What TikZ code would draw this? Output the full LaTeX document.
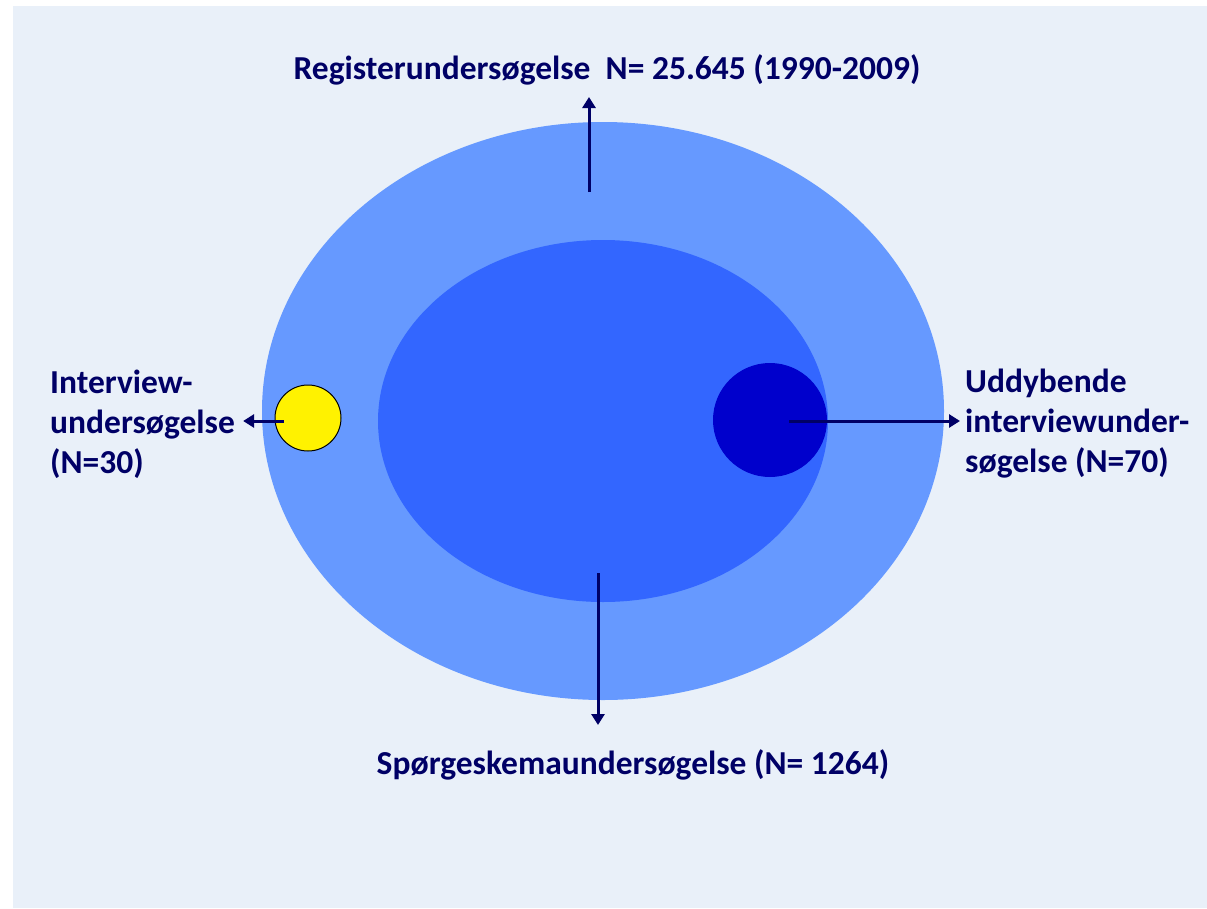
\documentclass[tikz,border=0pt]{standalone}
\usepackage{fontspec}
\setmainfont{Carlito}
\usepackage{tikz}
\usetikzlibrary{arrows.meta}
\definecolor{bgblue}{HTML}{E9F0F9}
\definecolor{outerblue}{HTML}{6699FF}
\definecolor{innerblue}{HTML}{3366FF}
\definecolor{darkdot}{HTML}{0000CC}
\definecolor{navy}{HTML}{000066}
\tikzset{
  lbl/.style={text=navy,font=\fontsize{33.5}{40}\selectfont\bfseries,inner sep=0pt},
  arr/.style={navy,line width=3pt,-{Triangle[width=13pt,length=11pt]}}
}
\begin{document}
\begin{tikzpicture}[x=1pt,y=-1pt]
          \useasboundingbox (0,0) rectangle (1207,908);
          \fill[bgblue] (13,6) rectangle (1207,908);
          \fill[outerblue] (603,411) ellipse [x radius=341,y radius=289];
          \fill[innerblue] (603,421) ellipse [x radius=225,y radius=181];
          \node[circle,fill=yellow,draw=black,line width=1pt,minimum size=66pt,inner sep=0pt] (yellowdot) at (308,418) {};
          \node[circle,fill=darkdot,minimum size=114pt,inner sep=0pt] (bluedot) at (770,420) {};
          % labels
          \node[lbl] (register) at (607,70) {Registerundersøgelse\ \ N= 25.645 (1990-2009)};
          \node[lbl] (spoerge) at (633,765) {Spørgeskemaundersøgelse (N= 1264)};
          \node[lbl,anchor=west,align=left] (interview) at (50,424) {Interview-\\undersøgelse\\(N=30)};
          \node[lbl,anchor=west,align=left] (uddyb) at (965,424) {Uddybende\\interviewunder-\\søgelse (N=70)};
          % arrows
          \coordinate (upstart) at (589,192);
          \coordinate (downstart) at (598,573);
          \coordinate (leftstart) at (284,421);
          \coordinate (rightstart) at (789,421);
          \draw[arr] (upstart) -- (589,97);
          \draw[arr] (downstart) -- (598,725);
          \draw[arr] (leftstart) -- ([xshift=8pt]leftstart -| interview.east);
          \draw[arr] (rightstart) -- ([xshift=-5pt]rightstart -| uddyb.west);
        \end{tikzpicture}
\end{document}
